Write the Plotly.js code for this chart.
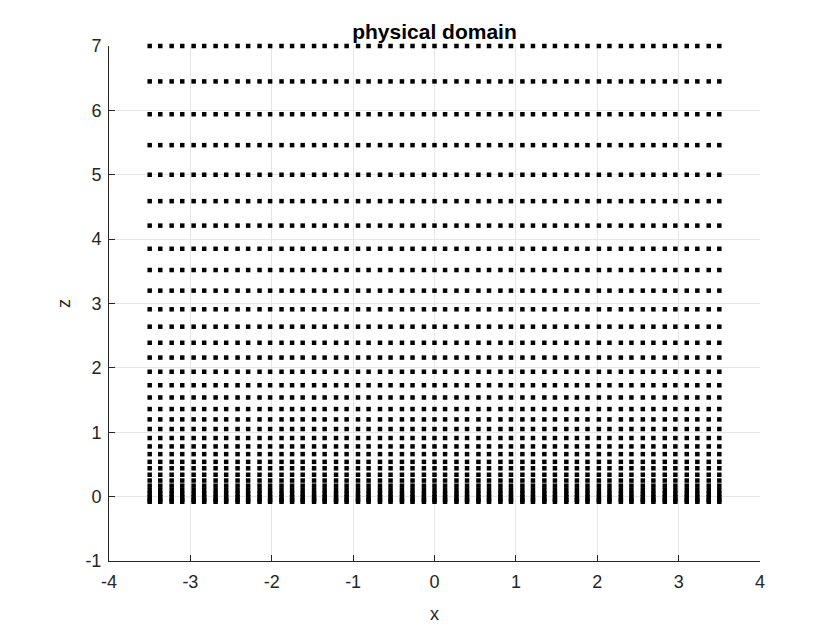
<!DOCTYPE html>
<html>
<head>
<meta charset="utf-8">
<script src="https://cdn.plot.ly/plotly-3.0.1.min.js"></script>
<style>
  html, body { margin: 0; padding: 0; background: #fff; }
  #chart { width: 840px; height: 630px; }
</style>
</head>
<body>
<div id="chart"></div>
<script>
// grid columns (x) and grid levels (z)
var xGrid = [-3.50, -3.37, -3.23, -3.10, -2.96, -2.83, -2.69, -2.56, -2.42, -2.29,
             -2.15, -2.02, -1.88, -1.75, -1.62, -1.48, -1.35, -1.21, -1.08, -0.94,
             -0.81, -0.67, -0.54, -0.40, -0.27, -0.13, 0.00, 0.13, 0.27, 0.40,
             0.54, 0.67, 0.81, 0.94, 1.08, 1.21, 1.35, 1.48, 1.62, 1.75,
             1.88, 2.02, 2.15, 2.29, 2.42, 2.56, 2.69, 2.83, 2.96, 3.10,
             3.23, 3.37, 3.50];

var zGrid = [7.00, 6.45, 5.94, 5.46, 5.00, 4.59, 4.21, 3.85, 3.52, 3.20,
             2.91, 2.64, 2.39, 2.16, 1.94, 1.73, 1.54, 1.36, 1.20, 1.05,
             0.91, 0.78, 0.66, 0.54, 0.44, 0.34, 0.25, 0.17, 0.10, 0.04,
             -0.01, -0.05, -0.08];

var xTicks = [-4, -3, -2, -1, 0, 1, 2, 3, 4];
var zTicks = [-1, 0, 1, 2, 3, 4, 5, 6, 7];

var xs = [], zs = [];
for (var i = 0; i < zGrid.length; i++) {
    for (var j = 0; j < xGrid.length; j++) {
        xs.push(xGrid[j]);
        zs.push(zGrid[i]);
    }
}

var trace = {
    x: xs,
    y: zs,
    mode: 'markers',
    type: 'scatter',
    cliponaxis: false,
    marker: { symbol: 'square', size: 4.5, color: '#000000', line: { width: 0 } },
    hoverinfo: 'x+y'
};

var axisFont = { family: 'Liberation Sans, Arial, sans-serif', size: 18, color: '#262626' };

var layout = {
    width: 840,
    height: 630,
    paper_bgcolor: '#ffffff',
    plot_bgcolor: '#ffffff',
    showlegend: false,
    margin: { l: 109, r: 80, t: 46, b: 69 },
    title: {
        text: 'physical domain',
        font: { family: 'Liberation Sans, Arial, sans-serif', size: 21, color: '#000000', weight: 'bold' },
        x: 0.5, xref: 'paper',
        y: 1 - 32 / 630, yref: 'container', yanchor: 'middle'
    },
    xaxis: {
        range: [-4, 4],
        tickvals: xTicks,
        ticktext: xTicks.map(String),
        ticks: 'inside',
        ticklen: 6,
        tickcolor: '#262626',
        ticklabelstandoff: 4,
        showline: true,
        linecolor: '#262626',
        linewidth: 1,
        mirror: false,
        showgrid: true,
        gridcolor: '#e6e6e6',
        zeroline: false,
        tickfont: axisFont,
        title: { text: 'x', font: axisFont, standoff: 16 }
    },
    yaxis: {
        range: [-1, 7],
        tickvals: zTicks,
        ticktext: zTicks.map(String),
        ticks: 'inside',
        ticklen: 6,
        tickcolor: '#262626',
        ticklabelstandoff: 3,
        showline: true,
        linecolor: '#262626',
        linewidth: 1,
        mirror: false,
        showgrid: true,
        gridcolor: '#e6e6e6',
        zeroline: false,
        tickfont: axisFont,
        title: { text: 'z', font: axisFont, standoff: 10 }
    }
};

Plotly.newPlot('chart', [trace], layout, { staticPlot: true });
</script>
</body>
</html>
